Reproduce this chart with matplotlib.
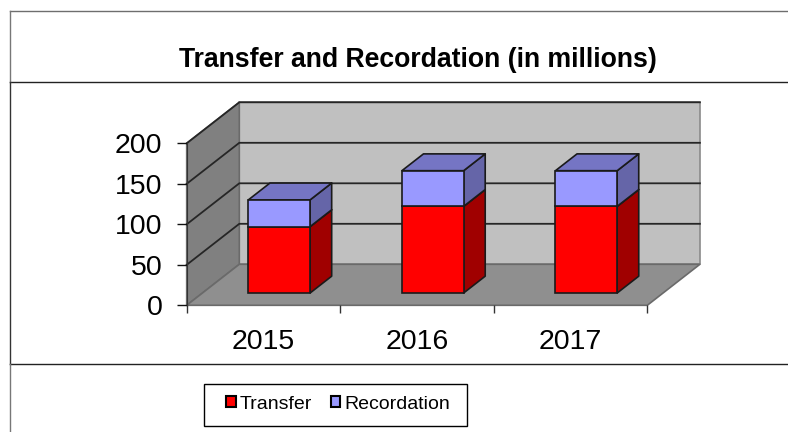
import matplotlib
matplotlib.use("Agg")
import matplotlib.pyplot as plt
from matplotlib.lines import Line2D
from matplotlib.patches import Patch, Polygon, Rectangle

plt.rcParams['font.family'] = ['Liberation Sans', 'DejaVu Sans']

years = ['2015', '2016', '2017']
transfer = [82, 107, 107]
recordation = [33, 44, 44]
y_ticks = [0, 50, 100, 150, 200]

W, H = 788, 432
# front plane of the 3d box in pixels
LEFT, RIGHT, BOTTOM, TOP = 186.7, 647.3, 305.3, 143.3
# how far the back wall sits from the front plane, in data units
DEPTH_X = 52.6 / ((RIGHT - LEFT) / 3)
DEPTH_Y = 41 / ((BOTTOM - TOP) / 200)
BAR_W = 0.402
BAR_D0, BAR_D1 = 0.30, 0.71
EDGE = '#1a1a1a'


def pt(x, y, d=0.0):
    # project x, y at depth d (0 front, 1 back)
    return (x + d * DEPTH_X, y + d * DEPTH_Y)


def face(ax, pts, color, z, edge=EDGE, lw=1.2):
    ax.add_patch(Polygon(pts, closed=True, facecolor=color, edgecolor=edge,
                         linewidth=lw, zorder=z, clip_on=False, joinstyle='round'))


def box(ax, x, y0, y1, front, side, top, z):
    xl, xr = x - BAR_W / 2, x + BAR_W / 2
    ax.bar(pt(x, 0, BAR_D0)[0], y1 - y0, BAR_W, bottom=pt(x, y0, BAR_D0)[1], color=front,
           edgecolor=EDGE, linewidth=1.2, zorder=z + 0.2, clip_on=False)
    face(ax, [pt(xr, y0, BAR_D0), pt(xr, y0, BAR_D1), pt(xr, y1, BAR_D1), pt(xr, y1, BAR_D0)], side, z)
    face(ax, [pt(xl, y1, BAR_D0), pt(xr, y1, BAR_D0), pt(xr, y1, BAR_D1), pt(xl, y1, BAR_D1)], top, z + 0.1)


fig = plt.figure(figsize=(W / 100, H / 100), dpi=100)
ax = fig.add_axes([LEFT / W, 1 - BOTTOM / H, (RIGHT - LEFT) / W, (BOTTOM - TOP) / H])
ax.set_xlim(0, len(years))
ax.set_ylim(0, 200)
ax.patch.set_visible(False)

# walls and floor
xmax = len(years)
face(ax, [pt(0, 0, 1), pt(xmax, 0, 1), pt(xmax, 200, 1), pt(0, 200, 1)], '#c0c0c0', 1, '#8a8a8a', 1.2)
face(ax, [pt(0, 0, 0), pt(0, 0, 1), pt(0, 200, 1), pt(0, 200, 0)], '#808080', 1.1, '#6a6a6a', 1.2)
face(ax, [pt(0, 0, 0), pt(xmax, 0, 0), pt(xmax, 0, 1), pt(0, 0, 1)], '#8f8f8f', 1.2, '#6a6a6a', 1.2)

# gridlines run along the side wall and the back wall
for v in y_ticks[1:]:
    xs, ys = zip(pt(0, v, 0), pt(0, v, 1), pt(xmax, v, 1))
    ax.plot(xs, ys, color='#262626', lw=1.3, zorder=1.5, clip_on=False)

for i in range(len(years)):
    c = i + 0.5
    box(ax, c, 0, transfer[i], '#ff0000', '#a00000', '#a00000', 3)
    box(ax, c, transfer[i], transfer[i] + recordation[i], '#9999ff', '#6565a8', '#7575c4', 4)

ax.set_xticks(range(len(years) + 1))
ax.set_xticklabels([])
ax.set_xticks([i + 0.5 for i in range(len(years))], labels=years, minor=True)
ax.tick_params(axis='x', which='major', length=6, width=1, color='#333333')
ax.tick_params(axis='x', which='minor', length=0, pad=17, labelsize=20.5)
ax.set_yticks(y_ticks)
ax.tick_params(axis='y', length=7, width=1, color='#111111', pad=10.5, labelsize=20.5)
for s in ['top', 'right', 'bottom']:
    ax.spines[s].set_visible(False)
ax.spines['left'].set_color('#333333')
ax.spines['left'].set_zorder(2)

# table style frame around the chart
frame = [((10, 788), (11, 11), '#6e6e6e'), ((10, 788), (81.5, 81.5), '#222222'),
         ((10, 788), (363.5, 363.5), '#222222'), ((10, 10), (11, 81.5), '#777777'),
         ((10, 10), (81.5, 363.5), '#333333'), ((10, 10), (363.5, 432), '#777777')]
for xs, ys, col in frame:
    fig.add_artist(Line2D([x / W for x in xs], [1 - y / H for y in ys], color=col, lw=1.0))

fig.text(417.5 / W, 1 - 60 / H, 'Transfer and Recordation (in millions)', ha='center', va='center',
         fontsize=19.2, fontweight='bold', color='black')

# legend box is offset from its contents in the original, so drawn on its own
fig.add_artist(Rectangle((203.5 / W, 1 - 425.5 / H), 263 / W, 42 / H, facecolor='white',
                         edgecolor='black', linewidth=1.0, transform=fig.transFigure))
handles = [Patch(facecolor='#ff0000', edgecolor='black', linewidth=1.5, label='Transfer'),
           Patch(facecolor='#9999ff', edgecolor='black', linewidth=1.5, label='Recordation')]
leg = fig.legend(handles=handles, ncol=2, loc='center', bbox_to_anchor=(338 / W, 1 - 404.3 / H),
                 fontsize=14, frameon=False,
                 handlelength=0.5, handleheight=0.5, handletextpad=0.2, columnspacing=0.95,
                 borderpad=0, borderaxespad=0)

fig.savefig('out.png', dpi=100)
